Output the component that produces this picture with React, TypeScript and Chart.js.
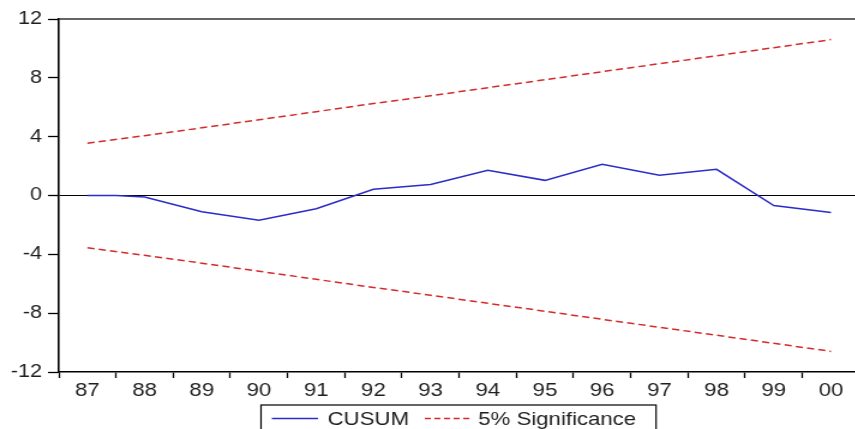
import React, { useEffect, useRef } from "react";
import { Chart, registerables } from "chart.js";

Chart.register(...registerables);

// ---- data ----
const yearLabels = ["87", "88", "89", "90", "91", "92", "93", "94", "95", "96", "97", "98", "99", "00"];
const yTicks = [-12, -8, -4, 0, 4, 8, 12];

const cusumX = [87.5, 88.0, 88.5, 89.5, 90.5, 91.5, 92.5, 93.5, 94.5, 95.5, 96.5, 97.5, 98.5, 99.5, 100.5];
const cusumY = [0, 0, -0.1, -1.1, -1.68, -0.9, 0.42, 0.75, 1.71, 1.03, 2.12, 1.37, 1.78, -0.68, -1.16];

const boundX = [87.5, 88.5, 89.5, 90.5, 91.5, 92.5, 93.5, 94.5, 95.5, 96.5, 97.5, 98.5, 99.5, 100.5];
const upperBound = [3.55, 4.07, 4.6, 5.15, 5.7, 6.25, 6.78, 7.33, 7.87, 8.42, 8.96, 9.5, 10.05, 10.6];
const lowerBound = [-3.55, -4.07, -4.6, -5.15, -5.7, -6.25, -6.78, -7.33, -7.87, -8.42, -8.96, -9.5, -10.05, -10.6];

const seriesNames = ["CUSUM", "5% Significance"];

// ---- layout / style ----
const SX = 1.2; // horizontal stretch of the whole picture
const CANVAS_W = 720;
const CANVAS_H = 429;
const FONT = "'Liberation Sans', Arial, sans-serif";
const BLUE = "#2c2cc8";
const RED = "#d42a2a";
const TEXT = "#1e1e1e";

const pts = (xs: number[], ys: number[]) => xs.map((x, i) => ({ x, y: ys[i] }));

const framePlugin = {
  id: "frame",
  afterDraw(chart: any) {
    const { ctx, chartArea: a } = chart;
    ctx.save();
    ctx.strokeStyle = "#333";
    ctx.lineWidth = 1.5;
    ctx.beginPath();
    ctx.moveTo(a.left, a.top);
    ctx.lineTo(a.right, a.top);
    ctx.lineTo(a.right, a.bottom);
    ctx.stroke();

    // legend box
    const boxL = 217.5, boxR = 546.7, boxT = 405, boxB = 445, midY = 418.5;
    ctx.strokeStyle = "#000";
    ctx.lineWidth = 1.2;
    ctx.strokeRect(boxL, boxT, boxR - boxL, boxB - boxT);

    ctx.lineWidth = 1.4;
    ctx.strokeStyle = BLUE;
    ctx.setLineDash([]);
    ctx.beginPath();
    ctx.moveTo(226.5, midY);
    ctx.lineTo(265, midY);
    ctx.stroke();

    ctx.strokeStyle = RED;
    ctx.setLineDash([5, 3]);
    ctx.beginPath();
    ctx.moveTo(354, midY);
    ctx.lineTo(392, midY);
    ctx.stroke();
    ctx.setLineDash([]);

    ctx.fillStyle = TEXT;
    ctx.font = `18.5px ${FONT}`;
    ctx.textBaseline = "middle";
    ctx.textAlign = "left";
    ctx.fillText(seriesNames[0], 273, midY + 1);
    ctx.fillText(seriesNames[1], 398.5, midY + 1);
    ctx.restore();
  },
};

export default function App() {
  const ref = useRef<HTMLCanvasElement>(null);

  useEffect(() => {
    if (!ref.current) return;
    const chart = new Chart(ref.current, {
      type: "line",
      data: {
        datasets: [
          {
            label: seriesNames[0],
            data: pts(cusumX, cusumY),
            borderColor: BLUE,
            borderWidth: 1.5,
            pointRadius: 0,
            tension: 0,
            xAxisID: "x",
          },
          {
            label: seriesNames[1],
            data: pts(boundX, upperBound),
            borderColor: RED,
            borderWidth: 1.5,
            borderDash: [6, 3.5],
            pointRadius: 0,
            tension: 0,
            xAxisID: "x",
          },
          {
            label: seriesNames[1] + " (lower)",
            data: pts(boundX, lowerBound),
            borderColor: RED,
            borderWidth: 1.5,
            borderDash: [6, 3.5],
            pointRadius: 0,
            tension: 0,
            xAxisID: "x",
          },
        ],
      },
      options: {
        animation: false,
        responsive: false,
        devicePixelRatio: 1,
        events: [],
        layout: { padding: { top: 19, left: 0, right: 3.7, bottom: 0 } },
        plugins: { legend: { display: false }, tooltip: { enabled: false } },
        scales: {
          x: {
            type: "linear",
            display: false,
            min: 87,
            max: 101,
          },
          xc: {
            type: "category",
            position: "bottom",
            labels: yearLabels,
            offset: true,
            min: 0,
            max: yearLabels.length - 1,
            grid: {
              offset: true,
              drawOnChartArea: false,
              drawTicks: true,
              tickLength: 6,
              tickColor: "#000",
              tickWidth: 1.3,
            },
            border: { color: "#000", width: 1.6 },
            ticks: { color: TEXT, font: { family: FONT, size: 18.5 }, padding: 2, maxRotation: 0, autoSkip: false },
            afterFit: (s: any) => {
              s.height = 57;
            },
          },
          y: {
            type: "linear",
            min: yTicks[0],
            max: yTicks[yTicks.length - 1],
            afterBuildTicks: (s: any) => {
              s.ticks = yTicks.map((v) => ({ value: v }));
            },
            grid: {
              drawOnChartArea: true,
              color: (c: any) => (c.tick && c.tick.value === 0 ? "#000" : "rgba(0,0,0,0)"),
              lineWidth: 1,
              tickColor: "#000",
              tickLength: 9,
              tickWidth: 1.3,
            },
            border: { color: "#000", width: 1.6 },
            ticks: { color: TEXT, font: { family: FONT, size: 18 }, padding: 5 },
            afterFit: (s: any) => {
              s.width = 49;
            },
          },
        },
      },
      plugins: [framePlugin],
    });
    return () => chart.destroy();
  }, []);

  return (
    <div
      style={{
        position: "fixed",
        left: 0,
        top: 0,
        width: 855,
        height: 429,
        overflow: "hidden",
        background: "#fff",
      }}
    >
      <canvas
        ref={ref}
        width={CANVAS_W}
        height={CANVAS_H}
        style={{
          width: CANVAS_W + "px",
          height: CANVAS_H + "px",
          display: "block",
          transform: `scaleX(${SX})`,
          transformOrigin: "0 0",
        }}
      />
    </div>
  );
}
